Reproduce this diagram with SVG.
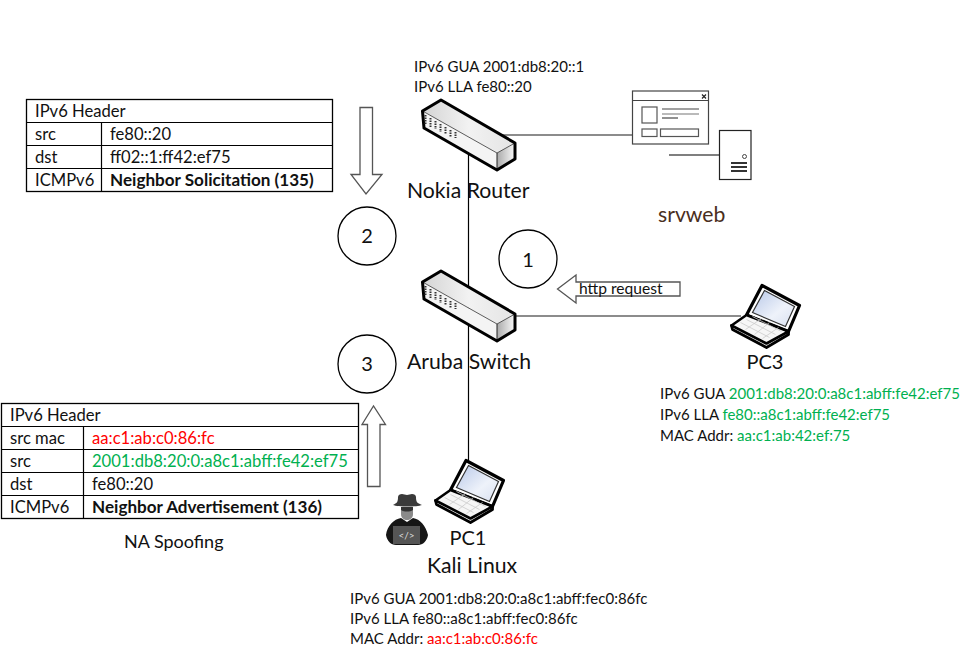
<svg xmlns="http://www.w3.org/2000/svg" width="971" height="657" viewBox="0 0 971 657">
<style>
text{font-family:"Lato","Carlito","Liberation Sans",sans-serif;fill:#111}
.s{font-size:15px}
.t{font-size:16.6px}
.l{font-size:21.2px}
.p{font-size:20px}
.b{font-weight:700;font-size:17.1px}
.r{fill:#ff0000}
.g{fill:#00b050}
.line{stroke:#000;stroke-width:1.2;fill:none}
.gl{stroke:#666;stroke-width:1.6;fill:none}
.tb{fill:#fff;stroke:#000;stroke-width:1.3}
.c{fill:#fff;stroke:#000;stroke-width:1.3}
.ar{fill:#fff;stroke:#555;stroke-width:1.3}
.m{text-anchor:middle}
</style>
<defs>
<linearGradient id="top" x1="0" y1="0" x2="1" y2="0"><stop offset="0" stop-color="#d4d4d4"/><stop offset=".5" stop-color="#f2f2f2"/><stop offset="1" stop-color="#e4e4e4"/></linearGradient>
<linearGradient id="side" x1="0" y1="0" x2="1" y2="0"><stop offset="0" stop-color="#aaa"/><stop offset="1" stop-color="#fafafa"/></linearGradient>
<linearGradient id="scr" x1="0" y1="0" x2="1" y2="1"><stop offset="0" stop-color="#b8c8e8"/><stop offset=".6" stop-color="#eef2fa"/><stop offset="1" stop-color="#d8e0f0"/></linearGradient>
<g id="sw">
<path d="M22 0 3.500 11 78 53 96 43Z" fill="url(#top)"/>
<path d="M3.500 11 78 53 78 70 5 28Z" fill="#f4f4f4"/>
<path d="M78 53 96 43 96 59 78 70Z" fill="url(#side)"/>
<path d="M3.500 11 78 53 96 43" fill="none" stroke="#333" stroke-width=".8"/>
<path d="M78 53V70" fill="none" stroke="#222" stroke-width="1"/>
<path d="M22 0 3.500 11 5 28 78 70 96 59 96 43Z" fill="none" stroke="#000" stroke-width="3" stroke-linejoin="round"/>
<path d="M6.500 15v9M11.500 18v9M16.500 21v8M21.500 24v8M26.500 27v7M31.500 30v7M36.500 32v6" stroke="#333" stroke-width="2" stroke-dasharray="1.500 1" fill="none"/>
</g>
<g id="lap">
<path d="M30.500 0 68 20 57 46 15 29.500Z" fill="#fff" stroke="#000" stroke-width="3.200" stroke-linejoin="round"/>
<path d="M33 5 63 21 54 41 21 27Z" fill="url(#scr)" stroke="#333" stroke-width="1.200"/>
<path d="M0 40 1 44 35 62 57 49 57 46Z" fill="#fff" stroke="#000" stroke-width="2.800" stroke-linejoin="round"/>
<path d="M15 29.500 0 40 35 58 57 46Z" fill="#f6f6f6" stroke="#000" stroke-width="2.600" stroke-linejoin="round"/>
<path d="M9 37 38 52M15 34 44 49M21 31 50 46M14 44 30 33M23 49 38 37M31 53 47 42" stroke="#ccc" stroke-width=".8" fill="none"/>
</g>
</defs>

<g id="connectors">
<path class="line" d="M468.500 153V480"/>
<path class="gl" d="M500 135H634"/>
<path class="gl" d="M515 316H741"/>
<path class="line" d="M669 155H720"/>
</g>

<g id="router"><use href="#sw" x="419" y="100"/>
<text class="s" x="414" y="72">IPv6 GUA 2001:db8:20::1</text>
<text class="s" x="414" y="92">IPv6 LLA fe80::20</text>
<text class="l" x="407" y="198">Nokia Router</text></g>

<g id="srvweb">
<rect x="632.500" y="91" width="76" height="53" fill="#fff" stroke="#444" stroke-width="1.200"/>
<path d="M632.500 100.500H708.500" stroke="#444" stroke-width="1.200"/>
<path d="M702 94.500l4 4m0-4l-4 4" stroke="#222" stroke-width="1.200"/>
<rect x="642" y="107" width="15" height="16" fill="#fff" stroke="#555" stroke-width="1.200"/>
<path d="M662 109H699" stroke="#444" stroke-width="1.200"/>
<path d="M662 114H699" stroke="#777" stroke-width="1.200"/>
<path d="M662 118H678" stroke="#222" stroke-width="1"/>
<rect x="642" y="129" width="15" height="7.500" fill="#fff" stroke="#555" stroke-width="1.200"/>
<rect x="660.500" y="129" width="38" height="7.500" fill="#fff" stroke="#555" stroke-width="1.200"/>
<rect x="719.500" y="130.500" width="31.500" height="49" fill="#fff" stroke="#222" stroke-width="1.200"/>
<circle cx="744.500" cy="156.500" r="2" fill="#fff" stroke="#444"/>
<path d="M731 163H747M731 167H747M731 171H747" stroke="#333" stroke-width="2"/>
<text class="l" x="658" y="222" style="fill:#4a2e20">srvweb</text></g>

<g id="switch"><use href="#sw" x="419" y="271"/>
<text class="l" x="407" y="369">Aruba Switch</text></g>

<g id="pc3"><use href="#lap" x="731.500" y="285.500"/>
<text class="p m" x="765" y="369">PC3</text>
<text class="s" x="660" y="399">IPv6 GUA <tspan class="g">2001:db8:20:0:a8c1:abff:fe42:ef75</tspan></text>
<text class="s" x="660" y="420">IPv6 LLA <tspan class="g">fe80::a8c1:abff:fe42:ef75</tspan></text>
<text class="s" x="660" y="441">MAC Addr: <tspan class="g">aa:c1:ab:42:ef:75</tspan></text></g>

<g id="pc1"><use href="#lap" x="435.500" y="460.500"/>
<text class="p m" x="468" y="545">PC1</text>
<text class="l m" x="472" y="573">Kali Linux</text>
<text class="s" x="350" y="604">IPv6 GUA 2001:db8:20:0:a8c1:abff:fec0:86fc</text>
<text class="s" x="350" y="624">IPv6 LLA fe80::a8c1:abff:fec0:86fc</text>
<text class="s" x="350" y="644">MAC Addr: <tspan class="r">aa:c1:ab:c0:86:fc</tspan></text></g>

<g id="hacker">
<path d="M393 505C397 503 398 502 398 497 398 495 400 494 402 494L407 495 412 494C414 494 416 495 416 497 416 502 417 503 422 505 417 507 398 507 393 505Z" fill="#3a3a3a"/>
<path d="M401 507H413V514C413 518 410 520 407 520 404 520 401 518 401 514Z" fill="#8a8a8a"/>
<path d="M401 507H413V510C410 512 404 512 401 510Z" fill="#333"/>
<path d="M386 535C387 526 394 519 401 518L407 522 413 518C420 519 426 526 428 535 427 541 423 545 418 545H396C391 545 387 541 386 535Z" fill="#161616"/>
<rect x="393" y="526" width="27" height="18" fill="#555"/>
<text x="406.500" y="539" class="m" style="font-size:10px;fill:#ddd">&lt;/&gt;</text></g>

<g id="step1"><circle class="c" cx="528" cy="259" r="29"/><text class="p m" x="528" y="267">1</text></g>
<g id="step2"><circle class="c" cx="367" cy="236" r="29"/><text class="p m" x="367" y="243">2</text></g>
<g id="step3"><circle class="c" cx="367" cy="364" r="29"/><text class="p m" x="367" y="371">3</text></g>

<g id="arrow-http"><path class="ar" d="M557.500 289 576 275 576 282 680 282 680 296 576 296 576 303Z"/>
<text class="s" x="579" y="294" style="font-size:15.600px">http request</text></g>
<path id="arrow-down" class="ar" d="M360 107.500H372.500V174.500H382L366 194 351 174.500H360Z"/>
<path id="arrow-up" class="ar" d="M367.500 486.500H380V424.500H385.500L373.500 406 362 424.500H367.500Z"/>

<g id="table-ns">
<rect class="tb" x="26.500" y="99.500" width="306" height="92"/>
<path class="line" d="M26.500 122.500H332.500M26.500 145.500H332.500M26.500 168.500H332.500M101.500 122.500V191.500"/>
<text class="t" x="35" y="117">IPv6 Header</text>
<text class="t" x="35" y="140">src</text><text class="t" x="110" y="140">fe80::20</text>
<text class="t" x="35" y="163">dst</text><text class="t" x="110" y="163">ff02::1:ff42:ef75</text>
<text class="t" x="35" y="186">ICMPv6</text><text class="b" x="110" y="186">Neighbor Solicitation (135)</text>
</g>

<g id="table-na">
<rect class="tb" x="1.500" y="403.500" width="357" height="115"/>
<path class="line" d="M1.500 426.500H358.500M1.500 449.500H358.500M1.500 472.500H358.500M1.500 495.500H358.500M83.500 426.500V518.500"/>
<text class="t" x="10" y="421">IPv6 Header</text>
<text class="t" x="10" y="444">src mac</text><text class="t r" x="92" y="444">aa:c1:ab:c0:86:fc</text>
<text class="t" x="10" y="467">src</text><text class="t g" x="92" y="467">2001:db8:20:0:a8c1:abff:fe42:ef75</text>
<text class="t" x="10" y="490">dst</text><text class="t" x="92" y="490">fe80::20</text>
<text class="t" x="10" y="513">ICMPv6</text><text class="b" x="92" y="513">Neighbor Advertisement (136)</text>
<text x="124" y="548" style="font-size:18px">NA Spoofing</text>
</g>
</svg>
